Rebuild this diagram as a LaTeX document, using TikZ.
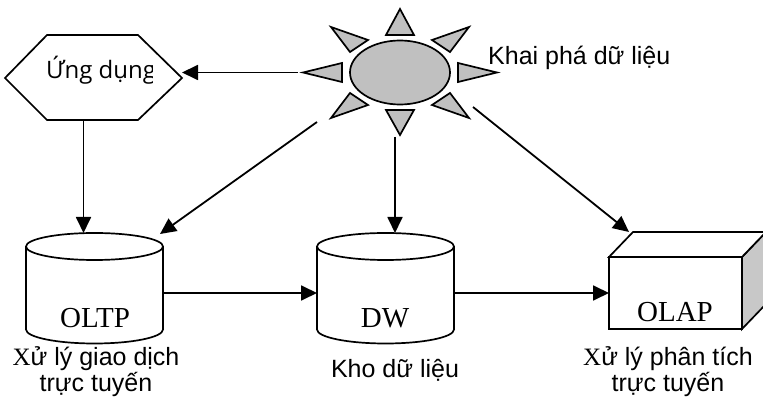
\documentclass[tikz,border=0pt]{standalone}
\usepackage{fontspec}
\setmainfont{Liberation Sans}
\newfontfamily\serifface{Liberation Serif}
\newfontfamily\appface{Open Sans}
\usetikzlibrary{arrows.meta,shapes.geometric,calc}

\definecolor{raygray}{HTML}{C0C0C0}
\definecolor{sidegray}{HTML}{C8C8C8}

\tikzset{
  shapeline/.style={line width=1.7pt, draw=black},
  arr/.style={line width=1.8pt, -{Triangle[length=16pt,width=15pt]}},
  ray/.style={shapeline, fill=raygray, line join=miter},
  caption/.style={font=\fontsize{25}{23}\selectfont, align=center, inner sep=0pt},
  dbname/.style={font=\serifface\fontsize{29}{29}\selectfont, inner sep=0pt},
  anchorbox/.style={draw=none, inner sep=0pt, outer sep=0pt},
  dbcyl/.pic={
    \draw[shapeline, fill=white] (-68.5,0) -- (-68.5,83)
      arc[start angle=180, end angle=360, x radius=68.5pt, y radius=14pt]
      -- (68.5,0);
    \draw[shapeline] (0,0) ellipse [x radius=68.5pt, y radius=13.5pt];
  }
}

\begin{document}
\begin{tikzpicture}[x=1pt, y=-1pt]
\useasboundingbox (0,0) rectangle (763,403);

% application hexagon
\draw[shapeline] (5,78) -- (47,35) -- (138,35) -- (182,78)
  -- (138,120) -- (47,120) -- cycle;
\node[anchorbox, minimum width=177pt, minimum height=85pt] (hex) at (93.5,77.5) {};
\begin{scope}
  \clip (0,30) rectangle (152,125);
  \node[anchor=base west, inner sep=0pt,
        font=\appface\fontsize{24}{26}\selectfont] (applabel) at (46,79) {Ứng dụng};
\end{scope}

% data-mining sun: rays
\draw[ray] (400,9) -- (414,35) -- (386,35) -- cycle;
\draw[ray] (400,135) -- (414,110) -- (386,110) -- cycle;
\draw[ray] (303,72.5) -- (342,63) -- (342,82) -- cycle;
\draw[ray] (497,72.5) -- (458,63) -- (458,82) -- cycle;
\draw[ray] (331,27) -- (368,40) -- (350,52) -- cycle;
\draw[ray] (469,27) -- (432,40) -- (450,52) -- cycle;
\draw[ray] (331,118) -- (368,105) -- (350,93) -- cycle;
\draw[ray] (469,118) -- (432,105) -- (450,93) -- cycle;
% sun body
\node[ellipse, shapeline, fill=raygray, minimum width=100pt, minimum height=64pt,
      inner sep=0pt] (sun) at (400,72.5) {};
\node[anchor=base west, inner sep=0pt, font=\fontsize{25}{25}\selectfont]
  (minelabel) at (488,65) {Khai phá dữ liệu};

% OLTP store
\pic at (94.5,246.5) {dbcyl};
\node[anchorbox, minimum width=137pt, minimum height=109pt] (oltp) at (94.5,287.5) {};
\node[dbname, anchor=base] (oltpname) at (95,327) {OLTP};
\node[caption, anchor=base] (oltpcap) at (96,391)
  {{\serifface X}ử lý giao dịch\\trực tuyến};

% data warehouse
\pic at (385.5,246.5) {dbcyl};
\node[anchorbox, minimum width=137pt, minimum height=109pt] (dw) at (385.5,287.5) {};
\node[dbname, anchor=base] (dwname) at (385,327) {DW};
\node[caption, anchor=base] (dwcap) at (395,377) {Kho dữ liệu};

% OLAP cube
\node[anchorbox, minimum width=133pt, minimum height=72pt] (olap) at (675.5,293) {};
\draw[shapeline, fill=sidegray, line join=miter]
  (olap.north east) -- ++(24,-25) -- ++(0,72) -- (olap.south east) -- cycle;
\draw[shapeline, fill=white, line join=miter]
  (olap.north west) -- ++(24,-25) -- ++(133,0) -- (olap.north east) -- cycle;
\draw[shapeline] (olap.north west) rectangle (olap.south east);
\node[dbname, anchor=base] (olapname) at (675,322) {OLAP};
\node[caption, anchor=base] (olapcap) at (668,391)
  {{\serifface X}ử lý phân tích\\trực tuyến};

% connectors
\coordinate (sunW) at (298,72.5);
\coordinate (sunSW) at (317,122);
\coordinate (sunS) at (395,137);
\coordinate (sunSE) at (473,107);
\draw[arr] (sunW) -- (sunW -| hex.east);
\draw[arr] ([xshift=-10pt]hex.south) -- ([xshift=-10pt]hex.south |- oltp.north);
\draw[arr] (sunSW) -- ([xshift=-3pt, yshift=-1pt]oltp.north east);
\draw[arr] (sunS) -- (sunS |- dw.north);
\draw[arr] (sunSE) -- ($(olap.north west)+(20,-25)$);
\draw[arr] ([yshift=-5.5pt]oltp.east) -- ([yshift=-5.5pt]dw.west);
\draw[arr] (dw.east |- olap.west) -- (olap.west);
\end{tikzpicture}
\end{document}
